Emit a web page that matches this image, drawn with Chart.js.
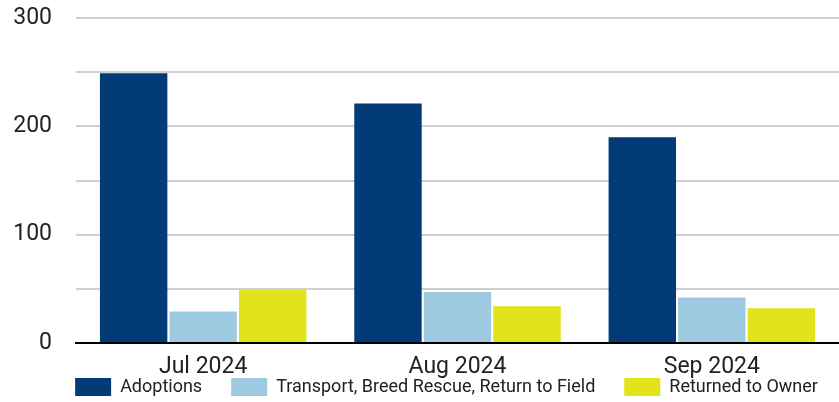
<!DOCTYPE html>
<html>
<head>
<meta charset="utf-8">
<script src="https://cdn.jsdelivr.net/npm/chart.js@4"></script>
<style>
  body { margin: 0; background: #fff; }
  #wrap { width: 839px; height: 402px; }
</style>
</head>
<body>
<div id="wrap"><canvas id="outcomeChart" width="839" height="402"></canvas></div>
<script>
// months and outcome counts
const months = ["Jul 2024", "Aug 2024", "Sep 2024"];
const adoptions = [249, 221, 190];
const transport = [29, 47, 42];
const returnedToOwner = [49, 34, 32];

// move the legend up under the month labels and a bit to the right
const legendTweak = {
    id: "legendTweak",
    afterLayout(chart) {
        const lg = chart.legend;
        const h = lg.height;
        lg.top = 349;
        lg.bottom = lg.top + h;
        lg.left += 27;
        lg.right += 27;
    }
};

const ctx = document.getElementById("outcomeChart").getContext("2d");
new Chart(ctx, {
    type: "bar",
    data: {
        labels: months,
        datasets: [
            { label: "Adoptions", data: adoptions, backgroundColor: "#033a78" },
            { label: "Transport, Breed Rescue, Return to Field", data: transport, backgroundColor: "#9ecae1" },
            { label: "Returned to Owner", data: returnedToOwner, backgroundColor: "#e2e31a" },
        ],
    },
    options: {
        responsive: false,
        animation: false,
        layout: { padding: { top: 18, right: 0, left: 0, bottom: -38 } },
        datasets: {
            bar: { categoryPercentage: 0.82, barPercentage: 0.97 }
        },
        plugins: {
            tooltip: { enabled: false },
            legend: {
                position: "bottom",
                labels: {
                    boxWidth: 36,
                    boxHeight: 18,
                    padding: 29,
                    color: "#222",
                    font: { family: "Roboto", size: 18 },
                },
            },
        },
        scales: {
            x: {
                grid: { display: false },
                border: { color: "#000", width: 2 },
                ticks: { color: "#222", padding: 2, font: { family: "Roboto", size: 23 } },
                afterFit: (s) => { s.height = 40; },
            },
            y: {
                min: 0,
                max: 300,
                border: { display: false },
                grid: {
                    drawTicks: false,
                    lineWidth: 2,
                    color: (c) => (c.tick && c.tick.value === 0 ? "rgba(0,0,0,0)" : "#d0d0d0"),
                },
                ticks: {
                    stepSize: 50,
                    padding: 24,
                    color: "#222",
                    font: { family: "Roboto", size: 23 },
                    callback: (v) => (v % 100 === 0 ? v : ""),
                },
                afterFit: (s) => {
                    s.width = 76;
                    s.paddingTop = 0;
                    s.paddingBottom = 0;
                },
            },
        },
    },
    plugins: [legendTweak],
});
</script>
</body>
</html>
